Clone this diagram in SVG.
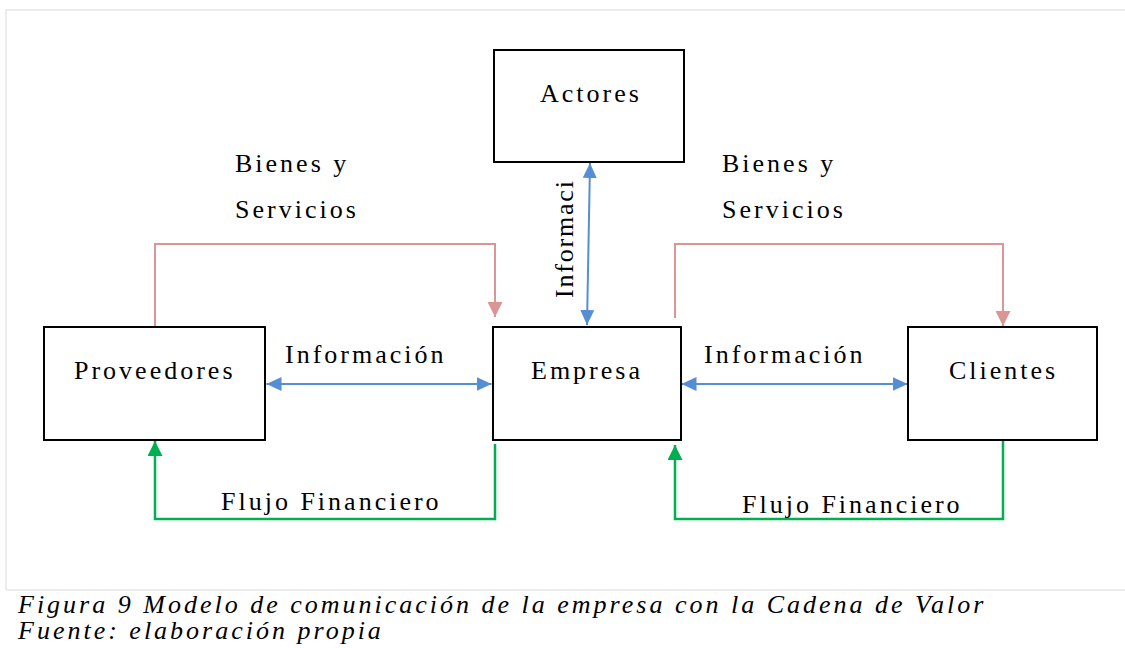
<svg xmlns="http://www.w3.org/2000/svg" width="1125" height="648" viewBox="0 0 1125 648">
  <style>
    .lbl { font-family: "Liberation Serif", "Times New Roman", serif; font-size: 26px; letter-spacing: 3px; fill: #000; }
    .cap { font-family: "Liberation Serif", "Times New Roman", serif; font-size: 26px; letter-spacing: 3px; font-style: italic; fill: #000; }
    .box { fill: #fff; stroke: #000; stroke-width: 2; }
    .pink { fill: none; stroke: #D99694; stroke-width: 2; }
    .blue { fill: none; stroke: #558ED5; stroke-width: 2; }
    .green { fill: none; stroke: #00B050; stroke-width: 2.5; }
    .frame { fill: none; stroke: #ECECEC; stroke-width: 2; }
  </style>
  <defs>
    <marker id="ap" markerUnits="userSpaceOnUse" markerWidth="16" markerHeight="16" refX="15" refY="7.5" orient="auto-start-reverse">
      <path d="M0,0 L15,7.5 L0,15 Z" fill="#D99694"/>
    </marker>
    <marker id="ab" markerUnits="userSpaceOnUse" markerWidth="16" markerHeight="16" refX="15" refY="7" orient="auto-start-reverse">
      <path d="M0,0 L15,7 L0,14 Z" fill="#558ED5"/>
    </marker>
    <marker id="ag" markerUnits="userSpaceOnUse" markerWidth="16" markerHeight="16" refX="15" refY="7.5" orient="auto-start-reverse">
      <path d="M0,0 L15,7.5 L0,15 Z" fill="#00B050"/>
    </marker>
  </defs>
  <rect width="1125" height="648" fill="#fff"/>
  <g id="frame">
    <path class="frame" d="M6,590 V10 H1125"/>
    <path class="frame" d="M6,590 H1125"/>
  </g>
  <g id="connectors">
    <path class="pink" d="M155,326 V244 H495 V317" marker-end="url(#ap)"/>
    <path class="pink" d="M675,318 V244 H1003 V326" marker-end="url(#ap)"/>
    <path class="blue" d="M266.5,384 H491.5" marker-start="url(#ab)" marker-end="url(#ab)"/>
    <path class="blue" d="M681.5,384 H907.5" marker-start="url(#ab)" marker-end="url(#ab)"/>
    <path class="blue" d="M590,163 L587,325" marker-start="url(#ab)" marker-end="url(#ab)"/>
    <path class="green" d="M495,444 V519 H155 V441" marker-end="url(#ag)"/>
    <path class="green" d="M1003,440 V519 H675 V445" marker-end="url(#ag)"/>
    <text class="lbl" x="235" y="172">Bienes y</text>
    <text class="lbl" x="235" y="218">Servicios</text>
    <text class="lbl" x="722" y="172">Bienes y</text>
    <text class="lbl" x="722" y="218">Servicios</text>
    <text class="lbl" x="285" y="363">Información</text>
    <text class="lbl" x="704" y="363">Información</text>
    <text class="lbl" style="letter-spacing:1.8px" transform="translate(573,298) rotate(-90)" x="0" y="0">Informaci</text>
    <text class="lbl" x="221" y="510">Flujo Financiero</text>
    <text class="lbl" x="742" y="513">Flujo Financiero</text>
  </g>
  <g id="actores">
    <rect class="box" x="494" y="50" width="190" height="112"/>
    <text class="lbl" x="540" y="102">Actores</text>
  </g>
  <g id="proveedores">
    <rect class="box" x="44" y="327" width="221" height="113"/>
    <text class="lbl" x="74" y="379">Proveedores</text>
  </g>
  <g id="empresa">
    <rect class="box" x="493" y="327" width="188" height="113"/>
    <text class="lbl" x="531" y="379">Empresa</text>
  </g>
  <g id="clientes">
    <rect class="box" x="908" y="327" width="189" height="113"/>
    <text class="lbl" x="949" y="379">Clientes</text>
  </g>
  <g id="caption">
    <text class="cap" x="18" y="613">Figura 9 Modelo de comunicación de la empresa con la Cadena de Valor</text>
    <text class="cap" x="18" y="639">Fuente: elaboración propia</text>
  </g>
</svg>
